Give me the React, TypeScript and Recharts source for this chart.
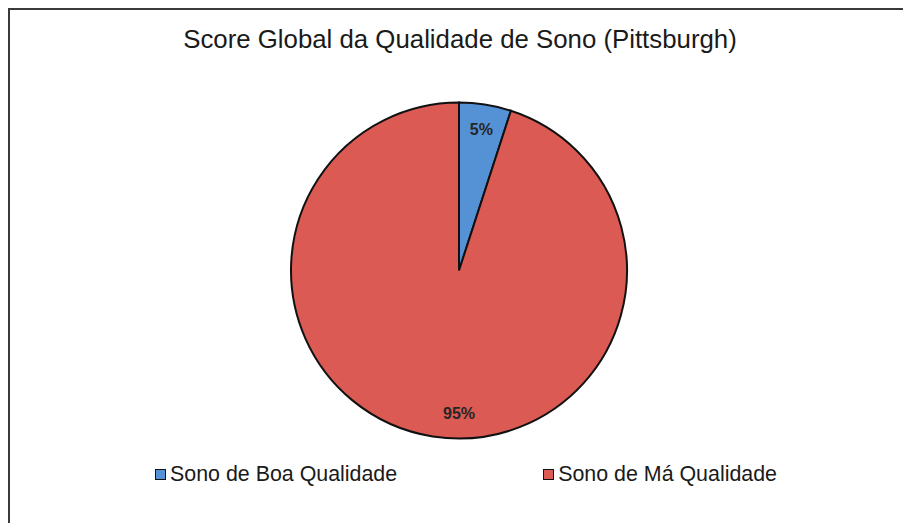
import { Pie, PieChart, Cell, Legend } from "recharts"

const title = "Score Global da Qualidade de Sono (Pittsburgh)"
const categories = ["Sono de Boa Qualidade", "Sono de Má Qualidade"]
const values = [5, 95]
const colors = ["#5591d5", "#db5a53"]

const data = categories.map((name, i) => ({ name, value: values[i] }))

const RADIAN = Math.PI / 180

function renderLabel(props: any) {
  const { cx, cy, midAngle, outerRadius, index, percent } = props
  // Excel put the big slice's label at the bottom of the pie
  const angle = index === 1 ? -90 : midAngle
  const r = outerRadius * 0.85
  const x = cx + r * Math.cos(-angle * RADIAN)
  const y = cy + r * Math.sin(-angle * RADIAN)
  return (
    <text
      x={x}
      y={y}
      textAnchor="middle"
      dominantBaseline="central"
      fontFamily="Liberation Sans, Arial, sans-serif"
      fontWeight="bold"
      fontSize={16}
      fill="#262626"
    >
      {`${Math.round(percent * 100)}%`}
    </text>
  )
}

function LegendContent() {
  return (
    <div
      style={{
        display: "flex",
        justifyContent: "flex-start",
        paddingLeft: 145,
        gap: 146,
        fontFamily: "Liberation Sans, Arial, sans-serif",
        fontSize: 21.4,
        color: "#1a1a1a",
        lineHeight: "24px",
        whiteSpace: "nowrap",
      }}
    >
      {categories.map((c, i) => (
        <div key={c} style={{ display: "flex", alignItems: "center" }}>
          <span
            style={{
              display: "inline-block",
              width: 9,
              height: 9,
              background: colors[i],
              border: "1.5px solid #111",
              marginRight: 4,
            }}
          />
          {c}
        </div>
      ))}
    </div>
  )
}

export default function App() {
  return (
    <div
      style={{
        position: "fixed",
        top: 0,
        left: 0,
        width: 903,
        height: 523,
        overflow: "hidden",
        background: "#fff",
      }}
    >
      <div
        style={{
          position: "absolute",
          top: 8,
          left: 8,
          width: 910,
          height: 530,
          border: "2px solid #3a3a3a",
          background: "#fff",
        }}
      >
        <div
          style={{
            position: "absolute",
            top: 12,
            left: 0,
            width: 900,
            textAlign: "center",
            fontFamily: "Liberation Sans, Arial, sans-serif",
            fontSize: 25.8,
            lineHeight: "34px",
            color: "#1a1a1a",
          }}
        >
          {title}
        </div>
        <PieChart width={898} height={518}>
          <Pie
            data={data}
            dataKey="value"
            nameKey="name"
            cx={444}
            cy={255.5}
            outerRadius={168}
            startAngle={90}
            endAngle={-270}
            stroke="#111"
            strokeWidth={2}
            label={renderLabel}
            labelLine={false}
            isAnimationActive={false}
          >
            {data.map((d, i) => (
              <Cell key={d.name} fill={colors[i]} />
            ))}
          </Pie>
          <Legend
            content={<LegendContent />}
            wrapperStyle={{ position: "absolute", top: 452, left: 0, width: 898 }}
          />
        </PieChart>
      </div>
    </div>
  )
}
